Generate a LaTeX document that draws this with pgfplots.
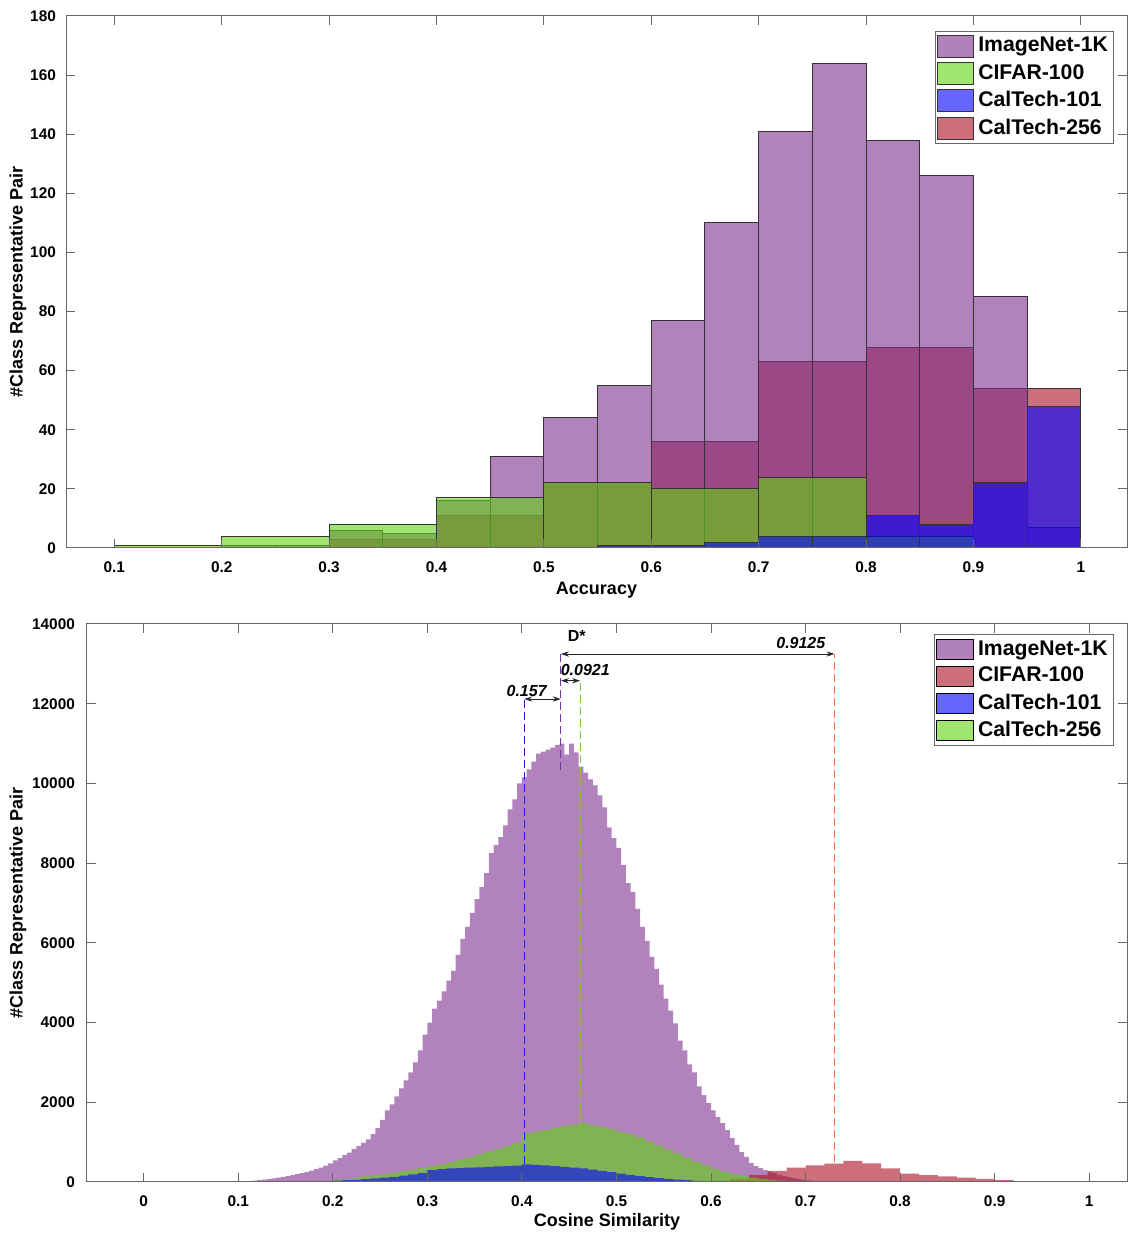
\documentclass[border=0pt]{standalone}
\usepackage{fontspec}
\setmainfont{Liberation Sans}
\usepackage{pgfplots}
\pgfplotsset{compat=1.18}
\usetikzlibrary{arrows.meta}
\definecolor{cpur}{RGB}{125,46,143}
\definecolor{cgrn}{RGB}{97,213,13}
\definecolor{cblu}{RGB}{0,0,255}
\definecolor{cred}{RGB}{170,15,35}
\definecolor{corg}{RGB}{235,120,70}
\definecolor{cdblu}{RGB}{30,30,220}
\definecolor{cdgrn}{RGB}{130,200,60}
\definecolor{cdpur}{RGB}{120,50,160}

\pgfplotsset{
  common/.style={
    scale only axis,
    axis line style={black!60, line width=0.5pt},
    every tick/.style={black!60, line width=0.5pt},
    major tick length=4.5pt,
    tick align=inside,
    scaled ticks=false,
    /pgf/number format/assume math mode=true,
    ticklabel style={font=\bfseries\fontsize{7.7}{9}\selectfont},
    label style={font=\bfseries\fontsize{9}{11}\selectfont},
    axis on top,
  },
  hist/.style={ybar interval, fill=#1, fill opacity=0.6, draw=black!80, line width=0.5pt, forget plot},
  histn/.style={ybar interval, fill=#1, fill opacity=0.6, draw=none, forget plot},
  swatch/.style={legend image code/.code={\draw[##1,line width=0.5pt] (0pt,-5.5pt) rectangle (18pt,5.5pt);}},
  swatchn/.style={legend image code/.code={\fill[##1] (0pt,-5pt) rectangle (18.5pt,5pt);}},
}

\pgfplotstableread{
x y
0.3 3
0.4 11
0.5 22
0.6 36
0.7 63
0.8 68
0.9 54
1.0 0
}\topred
\pgfplotstableread{
x y
0.20 1
0.25 1
0.30 6
0.35 5
0.40 16
0.45 31
0.50 44
0.55 55
0.60 77
0.65 110
0.70 141
0.75 164
0.80 138
0.85 126
0.90 85
0.95 7
1.00 0
}\toppur
\pgfplotstableread{
x y
0.1 1
0.2 4
0.3 8
0.4 17
0.5 22
0.6 20
0.7 24
0.8 4
0.9 0
}\topgrn
\pgfplotstableread{
x y
0.55 1
0.60 1
0.65 2
0.70 4
0.75 4
0.80 11
0.85 8
0.90 22
0.95 48
1.00 0
}\topblu

\pgfplotstableread{
x y
0.100 10
0.105 20
0.110 25
0.115 35
0.120 45
0.125 60
0.130 75
0.135 90
0.140 110
0.145 130
0.150 150
0.155 170
0.160 195
0.165 220
0.170 250
0.175 285
0.180 320
0.185 360
0.190 410
0.195 470
0.200 540
0.205 600
0.210 680
0.215 740
0.220 830
0.225 900
0.230 980
0.235 1070
0.240 1200
0.245 1350
0.250 1560
0.255 1800
0.260 1950
0.265 2150
0.270 2350
0.275 2550
0.280 2750
0.285 3000
0.290 3300
0.295 3700
0.300 4000
0.305 4350
0.310 4550
0.315 4780
0.320 5050
0.325 5300
0.330 5700
0.335 6100
0.340 6400
0.345 6750
0.350 7100
0.355 7400
0.360 7750
0.365 8250
0.370 8450
0.375 8650
0.380 8950
0.385 9350
0.390 9600
0.395 10000
0.400 10150
0.405 10350
0.410 10550
0.415 10750
0.420 10800
0.425 10850
0.430 10900
0.435 10970
0.440 11000
0.445 10720
0.450 11000
0.455 10780
0.460 10420
0.465 10270
0.470 10100
0.475 9950
0.480 9700
0.485 9400
0.490 8900
0.495 8630
0.500 8380
0.505 7950
0.510 7500
0.515 7280
0.520 6850
0.525 6400
0.530 6050
0.535 5650
0.540 5350
0.545 4950
0.550 4600
0.555 4300
0.560 3980
0.565 3550
0.570 3300
0.575 2950
0.580 2750
0.585 2400
0.590 2180
0.595 1980
0.600 1800
0.605 1630
0.610 1480
0.615 1300
0.620 1100
0.625 930
0.630 750
0.635 630
0.640 480
0.645 400
0.650 350
0.655 300
0.660 260
0.665 220
0.670 185
0.675 150
0.680 120
0.685 95
0.690 75
0.695 55
0.700 40
0.705 28
0.710 18
0.715 10
0.720 0
}\botpur
\pgfplotstableread{
x y
0.60 30
0.62 80
0.64 180
0.66 280
0.68 360
0.70 420
0.72 460
0.74 530
0.76 470
0.78 340
0.80 210
0.82 170
0.84 140
0.86 110
0.88 80
0.90 50
0.92 20
0.94 5
0.96 0
}\botred
\pgfplotstableread{
x y
0.20 60
0.21 80
0.22 110
0.23 140
0.24 170
0.25 200
0.26 230
0.27 270
0.28 310
0.29 350
0.30 400
0.31 440
0.32 500
0.33 550
0.34 620
0.35 690
0.36 760
0.37 830
0.38 900
0.39 980
0.40 1220
0.41 1260
0.42 1300
0.43 1350
0.44 1400
0.45 1440
0.46 1480
0.47 1420
0.48 1380
0.49 1330
0.50 1260
0.51 1200
0.52 1120
0.53 1020
0.54 920
0.55 820
0.56 720
0.57 620
0.58 510
0.59 420
0.60 330
0.61 260
0.62 200
0.63 150
0.64 110
0.65 80
0.66 55
0.67 35
0.68 20
0.69 10
0.70 0
}\botgrn
\pgfplotstableread{
x y
0.15 5
0.16 10
0.17 15
0.18 20
0.19 25
0.20 35
0.21 45
0.22 55
0.23 70
0.24 90
0.25 110
0.26 130
0.27 160
0.28 190
0.29 220
0.30 300
0.31 320
0.32 340
0.33 350
0.34 360
0.35 370
0.36 380
0.37 390
0.38 400
0.39 410
0.40 440
0.41 430
0.42 420
0.43 400
0.44 380
0.45 360
0.46 340
0.47 310
0.48 280
0.49 250
0.50 210
0.51 180
0.52 150
0.53 120
0.54 100
0.55 80
0.56 60
0.57 45
0.58 30
0.59 20
0.60 12
0.61 6
0.62 0
}\botblu

\begin{document}
\begin{tikzpicture}
\useasboundingbox (0,0) rectangle (564pt,617.5pt);
% ---------------- top ----------------
\begin{axis}[common,
  at={(33pt,343.5pt)}, anchor=south west,
  width=530.5pt, height=266pt,
  xmin=0.055, xmax=1.043, ymin=0, ymax=180,
  xtick={0.1,0.2,0.3,0.4,0.5,0.6,0.7,0.8,0.9,1},
  xticklabels={0.1,0.2,0.3,0.4,0.5,0.6,0.7,0.8,0.9,1},
  ytick={0,20,40,60,80,100,120,140,160,180},
  yticklabels={0,20,40,60,80,100,120,140,160,180},
  xticklabel style={yshift=-3.5pt},
  yticklabel style={xshift=-1.5pt},
  xlabel={Accuracy},
  ylabel={\#Class Representative Pair},
  xlabel style={at={(axis description cs:0.5,-0.079)}, anchor=center},
  ylabel style={at={(axis description cs:-0.0452,0.5)}, anchor=center},
  legend style={at={(0.988,0.972)}, anchor=north east, draw=black!60,
    font=\bfseries\fontsize{10.6}{12}\selectfont, inner sep=1pt, row sep=0.7pt,
    cells={anchor=west}},
]
\addplot[hist=cred] table {\topred};
\addplot[hist=cpur] table {\toppur};
\addplot[hist=cgrn] table {\topgrn};
\addplot[hist=cblu] table {\topblu};
\addlegendimage{swatch, fill=cpur, fill opacity=0.6, draw=black!80}
\addlegendentry{ImageNet-1K}
\addlegendimage{swatch, fill=cgrn, fill opacity=0.6, draw=black!80}
\addlegendentry{CIFAR-100}
\addlegendimage{swatch, fill=cblu, fill opacity=0.6, draw=black!80}
\addlegendentry{CalTech-101}
\addlegendimage{swatch, fill=cred, fill opacity=0.6, draw=black!80}
\addlegendentry{CalTech-256}
\end{axis}
% ---------------- bottom ----------------
\begin{axis}[common,
  at={(43.5pt,26.5pt)}, anchor=south west,
  width=520pt, height=279pt,
  xmin=-0.06, xmax=1.04, ymin=0, ymax=14000,
  xtick={0,0.1,0.2,0.3,0.4,0.5,0.6,0.7,0.8,0.9,1},
  xticklabels={0,0.1,0.2,0.3,0.4,0.5,0.6,0.7,0.8,0.9,1},
  ytick={0,2000,4000,6000,8000,10000,12000,14000},
  yticklabels={0,2000,4000,6000,8000,10000,12000,14000},
  xticklabel style={yshift=-3.5pt},
  yticklabel style={xshift=-2.5pt},
  xlabel={Cosine Similarity},
  ylabel={\#Class Representative Pair},
  xlabel style={at={(axis description cs:0.5,-0.0717)}, anchor=center},
  ylabel style={at={(axis description cs:-0.0663,0.5)}, anchor=center},
  legend style={at={(0.9875,0.982)}, anchor=north east, draw=black!60,
    font=\bfseries\fontsize{10.6}{12}\selectfont, inner sep=1pt, row sep=0.5pt,
    cells={anchor=west}},
]
\addplot[histn=cpur] table {\botpur};
\addplot[histn=cred] table {\botred};
\addplot[histn=cgrn] table {\botgrn};
\addplot[histn=cblu] table {\botblu};
% dashed mean lines
\addplot[forget plot, cdblu, dashed, dash pattern=on 4pt off 2pt, line width=0.6pt] coordinates {(0.4025,440) (0.4025,12176)};
\addplot[forget plot, cdpur, dashed, dash pattern=on 4pt off 2pt, line width=0.5pt] coordinates {(0.4412,10340) (0.4412,13290)};
\addplot[forget plot, cdgrn, dashed, dash pattern=on 4pt off 2pt, line width=0.6pt] coordinates {(0.4616,1480) (0.4616,12619)};
\addplot[forget plot, corg, dashed, dash pattern=on 4pt off 2pt, line width=0.6pt] coordinates {(0.7306,500) (0.7306,13247)};
% arrows
\draw[{Stealth[length=4pt,width=2.6pt]}-{Stealth[length=4pt,width=2.6pt]}, line width=0.4pt, black!85] (axis cs:0.4412,13247) -- (axis cs:0.7306,13247);
\draw[{Stealth[length=4pt,width=2.6pt]}-{Stealth[length=4pt,width=2.6pt]}, line width=0.4pt, black!85] (axis cs:0.4412,12577) -- (axis cs:0.4616,12577);
\draw[{Stealth[length=4pt,width=2.6pt]}-{Stealth[length=4pt,width=2.6pt]}, line width=0.4pt, black!85] (axis cs:0.4025,12117) -- (axis cs:0.4412,12117);
\node[font=\bfseries\itshape\fontsize{8}{9}\selectfont] at (axis cs:0.695,13515) {0.9125};
\node[font=\bfseries\itshape\fontsize{8}{9}\selectfont] at (axis cs:0.467,12845) {0.0921};
\node[font=\bfseries\itshape\fontsize{8}{9}\selectfont] at (axis cs:0.405,12326) {0.157};
\node[font=\bfseries\fontsize{8}{9}\selectfont] at (axis cs:0.458,13707) {D*};
\addlegendimage{swatchn, fill=cpur, fill opacity=0.6}
\addlegendentry{ImageNet-1K}
\addlegendimage{swatchn, fill=cred, fill opacity=0.6}
\addlegendentry{CIFAR-100}
\addlegendimage{swatchn, fill=cblu, fill opacity=0.6}
\addlegendentry{CalTech-101}
\addlegendimage{swatchn, fill=cgrn, fill opacity=0.6}
\addlegendentry{CalTech-256}
\end{axis}
\end{tikzpicture}
\end{document}
